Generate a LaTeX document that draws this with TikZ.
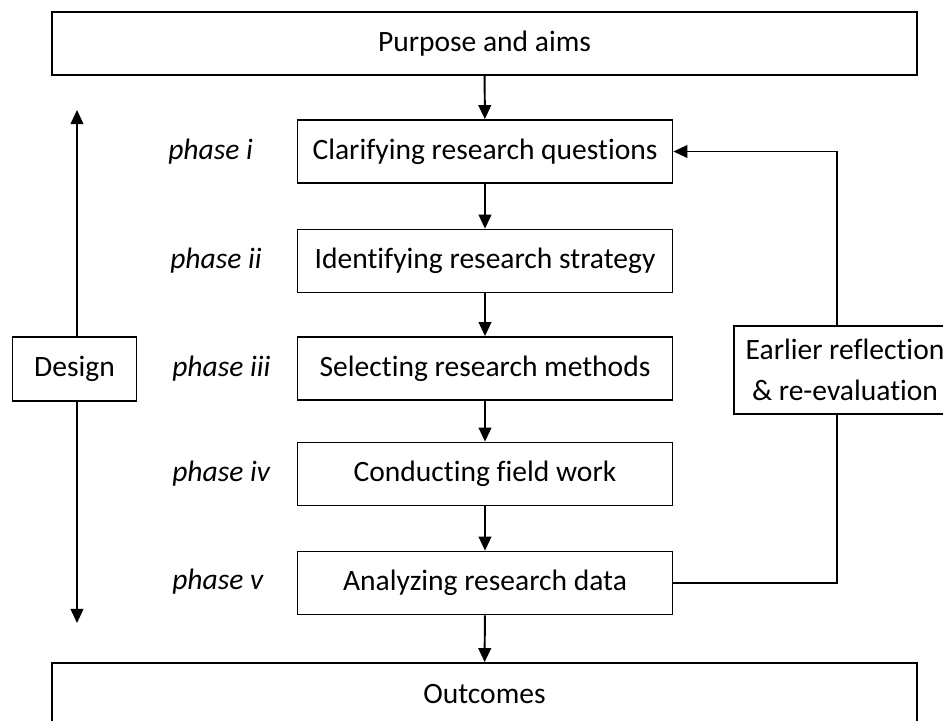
\documentclass[tikz,border=0pt]{standalone}
\usepackage{fontspec}
\setmainfont{Carlito}[Ligatures=NoCommon]
\usetikzlibrary{arrows.meta,positioning}

\tikzset{
  box/.style={draw,line width=1.2pt,minimum height=1.575cm,inner sep=2pt,
    font=\fontsize{21}{29}\selectfont},
  widebox/.style={box,minimum width=21.625cm},
  phasebox/.style={box,minimum width=9.375cm},
  phaselabel/.style={anchor=west,inner sep=0pt,font=\fontsize{21}{25}\selectfont\itshape},
  flow/.style={line width=1.4pt,-{Triangle[length=10pt,width=9pt]}},
}

\begin{document}
\begin{tikzpicture}[x=0.025cm,y=-0.025cm,line join=miter]
  \useasboundingbox (0,0) rectangle (943,721);
  % main column
  \node[widebox] (aims) at (484.5,43.75) {Purpose and aims};
  \node[phasebox] (clarify) at (485,151.5) {Clarifying research questions};
  \node[phasebox] (strategy) at (485,261) {Identifying research strategy};
  \node[phasebox] (methods) at (485,368.5) {Selecting research methods};
  \node[phasebox] (field) at (485,474) {Conducting field work};
  \node[phasebox] (analyze) at (485,583) {Analyzing research data};
  \node[widebox] (outcomes) at (484.5,694.5) {Outcomes};
  % phase labels
  \node[phaselabel] (pi) at (168,151.5) {phase i};
  \node[phaselabel] (pii) at (170,261) {phase ii};
  \node[phaselabel] (piii) at (172,368.5) {phase iii};
  \node[phaselabel] (piv) at (172,474) {phase iv};
  \node[phaselabel] (pv) at (172,582) {phase v};
  % side boxes
  \node[box,minimum width=3.1cm,minimum height=1.6cm] (design) at (74.5,369) {Design};
  \node[box,minimum width=5.55cm,minimum height=2.2cm,align=center] (earlier) at (845,370)
    {Earlier reflection\\\& re-evaluation};
  \coordinate (dtop) at (77,110);
  \coordinate (dbot) at (77,623);
  \coordinate (fb) at (837,370);

  \draw[flow] (aims) -- (clarify);
  \draw[flow] (clarify) -- (strategy);
  \draw[flow] (strategy) -- (methods);
  \draw[flow] (methods) -- (field);
  \draw[flow] (field) -- (analyze);
  \draw[flow] (analyze) -- (outcomes);

  \draw[flow] (dtop |- design.north) -- (dtop);
  \draw[flow] (dbot |- design.south) -- (dbot);

  \draw[line width=1.4pt] (analyze.east) -| (fb |- earlier.south);
  \draw[flow] (fb |- earlier.north) |- (clarify.east);
\end{tikzpicture}
\end{document}
